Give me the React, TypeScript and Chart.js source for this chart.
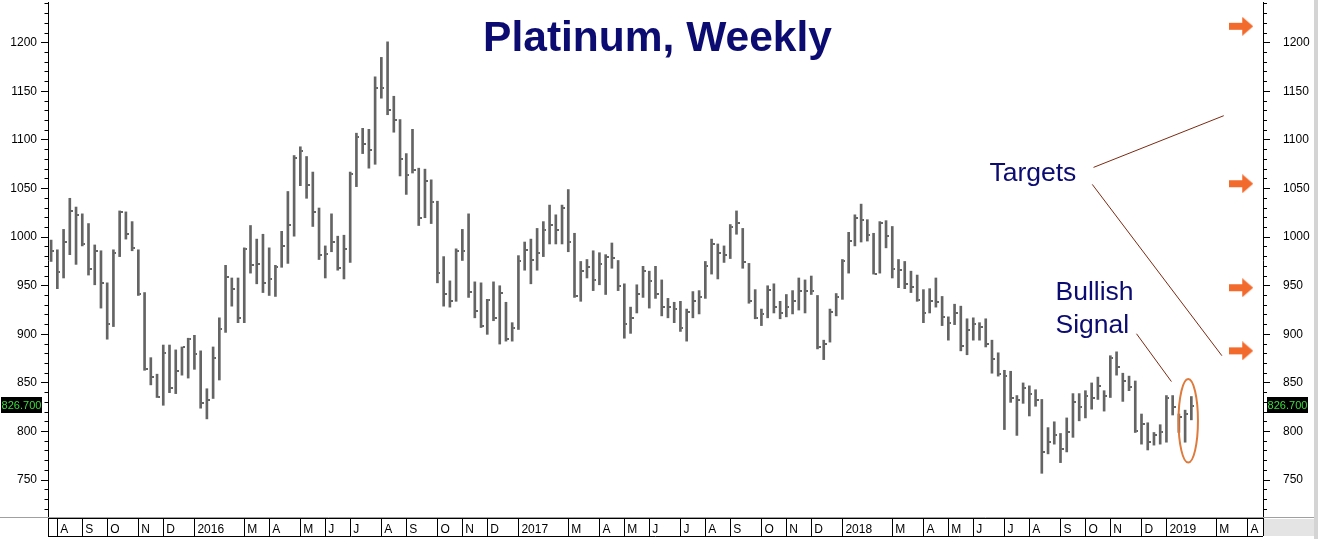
import React, { useEffect, useRef } from 'react';
import { Chart, registerables } from 'chart.js';

Chart.register(...registerables);

// ---------- data ----------
const TITLE = 'Platinum, Weekly';
const WEEK_COUNT = 195; // weekly slots on the axis (data + empty future weeks)
const FIRST_WEEK_UTC = Date.UTC(2015, 6, 27);

const highs = [
  997, 987, 1008, 1040, 1031, 1024, 1014, 992, 986, 953,
  987, 1027, 1026, 1016, 987, 943, 876, 859, 889, 889,
  884, 887, 896, 899, 883, 844, 887, 917, 971, 958,
  958, 989, 1012, 998, 1003, 989, 971, 1006, 1047, 1084,
  1093, 1083, 1067, 1030, 991, 1024, 1001, 1002, 1067, 1107,
  1112, 1111, 1165, 1185, 1201, 1145, 1121, 1086, 1111, 1071,
  1070, 1059, 1037, 980, 955, 988, 1008, 1024, 954, 953,
  936, 954, 950, 933, 912, 981, 995, 998, 1009, 1016,
  1033, 1023, 1033, 1049, 1004, 975, 977, 986, 984, 982,
  994, 976, 952, 928, 951, 970, 965, 970, 956, 937,
  933, 934, 926, 944, 945, 975, 998, 993, 991, 1013,
  1027, 1009, 973, 946, 926, 950, 952, 934, 941, 945,
  958, 956, 960, 940, 894, 926, 942, 977, 1005, 1023,
  1034, 1018, 1004, 1016, 1017, 1011, 977, 975, 965, 961,
  946, 947, 958, 939, 918, 931, 929, 916, 917, 912,
  916, 894, 881, 863, 862, 837, 850, 847, 843, 833,
  804, 810, 798, 814, 839, 839, 842, 850, 856, 842,
  878, 882, 860, 857, 852, 818, 809, 799, 807, 837,
  837, 818, 822, 836,
];

const lows = [
  975, 947, 958, 982, 972, 991, 961, 951, 927, 895,
  908, 980, 998, 986, 940, 863, 848, 835, 827, 840,
  839, 858, 855, 864, 824, 813, 834, 853, 902, 929,
  912, 912, 963, 952, 943, 940, 939, 969, 973, 1001,
  1053, 1040, 1011, 977, 958, 985, 966, 957, 974, 1052,
  1086, 1071, 1075, 1143, 1126, 1108, 1063, 1044, 1066, 1012,
  1020, 1014, 953, 929, 928, 934, 976, 938, 917, 907,
  900, 914, 890, 893, 893, 905, 966, 952, 966, 980,
  993, 993, 993, 985, 938, 934, 958, 945, 951, 941,
  968, 945, 896, 901, 922, 938, 927, 937, 919, 917,
  912, 903, 893, 917, 921, 937, 962, 957, 974, 978,
  1003, 968, 932, 916, 909, 917, 922, 916, 918, 921,
  925, 922, 941, 885, 874, 892, 919, 936, 963, 991,
  995, 996, 962, 963, 989, 958, 948, 947, 943, 934,
  912, 922, 928, 909, 894, 910, 883, 879, 894, 894,
  887, 860, 857, 802, 830, 796, 829, 816, 826, 757,
  777, 787, 768, 779, 794, 811, 814, 823, 833, 821,
  835, 858, 831, 842, 799, 787, 781, 786, 787, 789,
  817, 799, 789, 812,
];

const closes = [
  986, 964, 995, 1027, 1023, 993, 967, 986, 953, 911,
  984, 1026, 1003, 989, 941, 864, 856, 836, 881, 845,
  862, 887, 895, 880, 829, 832, 876, 906, 959, 947,
  917, 988, 971, 972, 953, 957, 969, 991, 1013, 1081,
  1089, 1054, 1026, 982, 983, 995, 968, 988, 1065, 1103,
  1096, 1090, 1153, 1154, 1131, 1121, 1080, 1064, 1069, 1020,
  1058, 1036, 963, 941, 934, 986, 986, 944, 924, 909,
  935, 917, 943, 895, 907, 975, 987, 976, 984, 1007,
  1013, 1007, 1030, 995, 939, 965, 969, 956, 972, 980,
  979, 950, 911, 917, 941, 965, 955, 941, 928, 928,
  926, 907, 923, 934, 938, 970, 993, 984, 982, 1010,
  1015, 974, 934, 917, 921, 946, 928, 922, 928, 934,
  945, 945, 945, 887, 890, 923, 938, 975, 996, 1020,
  1018, 1002, 962, 1015, 1001, 967, 966, 952, 949, 935,
  922, 934, 933, 918, 912, 922, 888, 904, 911, 908,
  890, 875, 859, 857, 835, 832, 845, 839, 832, 779,
  789, 796, 782, 799, 830, 825, 837, 835, 847, 837,
  876, 866, 852, 846, 801, 808, 789, 796, 799, 835,
  825, 815, 818, 826.7,
];

// month separators on the time axis: week slot index and its text
const monthTickIndex = [
  1, 5, 9, 14, 18, 23, 31, 35, 40, 44, 48, 53, 57, 62, 66, 70, 75, 83, 88, 92,
  96, 101, 105, 109, 114, 118, 122, 127, 135, 140, 144, 148, 153, 157, 162, 166,
  170, 175, 179, 187, 192,
];
const monthTickText = [
  'A', 'S', 'O', 'N', 'D', '2016', 'M', 'A', 'M', 'J', 'J', 'A', 'S', 'O', 'N', 'D',
  '2017', 'M', 'A', 'M', 'J', 'J', 'A', 'S', 'O', 'N', 'D', '2018', 'M', 'A', 'M',
  'J', 'J', 'A', 'S', 'O', 'N', 'D', '2019', 'M', 'A',
];

// price axis
const Y_MIN = 711;
const Y_MAX = 1242;
const Y_MINOR_STEP = 10;
const Y_LABEL_STEP = 50;

// price targets (orange arrows), placed in week slot 191
const targetValues = [1217, 1055, 948, 883];
const TARGET_SLOT = 191;

// annotations (week slot, price)
const targetsText = { text: 'Targets', slot: 150.6, price: 1057.4 };
const bullishText = [
  { text: 'Bullish', slot: 161.2, price: 935.4 },
  { text: 'Signal', slot: 161.2, price: 901.2 },
];
const leaderLines = [
  [167.3, 1071.8, 188.2, 1125],
  [167.1, 1054.3, 187.9, 878],
  [174.2, 900.6, 179.8, 851.4],
];
const signalEllipse = { slot: 182.5, price: 811, rSlots: 1.56, rPrice: 43 };

// ---------- styling ----------
const FONT = '"Liberation Sans", Arial, Helvetica, sans-serif';
const BAR_COLOR = '#646464';
const NAVY = '#0b0b72';
const ORANGE = '#f26a2c';
const LEADER = '#7b2a12';

const weekLabels = Array.from({ length: WEEK_COUNT }, (_, i) =>
  new Date(FIRST_WEEK_UTC + i * 7 * 86400000).toISOString().slice(0, 10)
);
const monthMap = new Map<number, string>();
monthTickIndex.forEach((idx, k) => monthMap.set(idx, monthTickText[k]));

function makeCloseTick(): HTMLCanvasElement {
  const c = document.createElement('canvas');
  c.width = 6;
  c.height = 2;
  const g = c.getContext('2d')!;
  g.fillStyle = BAR_COLOR;
  g.fillRect(4, 0, 2, 2);
  return c;
}

function makeArrow(): HTMLCanvasElement {
  const c = document.createElement('canvas');
  c.width = 24;
  c.height = 19;
  const g = c.getContext('2d')!;
  g.fillStyle = ORANGE;
  g.fillRect(0, 6, 14, 7);
  g.beginPath();
  g.moveTo(13, 0);
  g.lineTo(24, 9.5);
  g.lineTo(13, 19);
  g.closePath();
  g.fill();
  return c;
}

const annotationPlugin = {
  id: 'annotations',
  afterDraw(chart: any) {
    const { ctx, chartArea, scales } = chart;
    const xs = scales.x;
    const ys = scales.y;
    const ys2 = scales.y2;
    const px = (s: number) => xs.getPixelForValue(s);
    const py = (v: number) => ys.getPixelForValue(v);
    ctx.save();

    // frame pieces around the time strip
    const stripTop = xs.top;
    const stripBottom = xs.top + 18;
    ctx.fillStyle = '#e4e4e4';
    ctx.fillRect(chartArea.right + 0.5, stripTop + 1, chart.width - 4 - chartArea.right, stripBottom - stripTop - 1);
    ctx.fillStyle = '#d4d4d4';
    ctx.fillRect(chart.width - 4, 0, 4, chart.height);
    ctx.strokeStyle = '#a0a0a0';
    ctx.lineWidth = 1;
    ctx.beginPath();
    ctx.moveTo(0, chartArea.bottom - 0.5);
    ctx.lineTo(chart.width - 4, chartArea.bottom - 0.5);
    ctx.stroke();
    ctx.strokeStyle = '#000';
    ctx.beginPath();
    ctx.moveTo(chartArea.left, stripBottom + 0.5);
    ctx.lineTo(chartArea.right, stripBottom + 0.5);
    ctx.moveTo(chartArea.left + 0.5, stripTop);
    ctx.lineTo(chartArea.left + 0.5, stripBottom);
    ctx.moveTo(chartArea.right + 0.5, stripTop);
    ctx.lineTo(chartArea.right + 0.5, stripBottom);
    ctx.stroke();

    // title
    ctx.fillStyle = NAVY;
    ctx.font = `bold 42.5px ${FONT}`;
    ctx.textAlign = 'center';
    ctx.textBaseline = 'alphabetic';
    ctx.fillText(TITLE, (chartArea.left + chartArea.right) / 2 + 2, chartArea.top + 49);

    // leader lines
    ctx.strokeStyle = LEADER;
    ctx.lineWidth = 1;
    leaderLines.forEach(([s1, v1, s2, v2]) => {
      ctx.beginPath();
      ctx.moveTo(px(s1), py(v1));
      ctx.lineTo(px(s2), py(v2));
      ctx.stroke();
    });

    // text annotations
    ctx.fillStyle = NAVY;
    ctx.font = `26.5px ${FONT}`;
    ctx.textAlign = 'left';
    ctx.fillText(targetsText.text, px(targetsText.slot), py(targetsText.price));
    bullishText.forEach((t) => ctx.fillText(t.text, px(t.slot), py(t.price)));

    // ellipse around the signal bars
    const cx = px(signalEllipse.slot);
    const cy = py(signalEllipse.price);
    const rx = px(signalEllipse.slot + signalEllipse.rSlots) - cx;
    const ry = py(signalEllipse.price - signalEllipse.rPrice) - cy;
    ctx.strokeStyle = '#de7a3c';
    ctx.lineWidth = 2;
    ctx.beginPath();
    ctx.ellipse(cx, cy, rx, ry, 0, 0, Math.PI * 2);
    ctx.stroke();

    // last price boxes on both axes
    const last = closes[closes.length - 1];
    const ly = Math.round(py(last));
    const label = last.toFixed(3);
    ctx.font = `11px ${FONT}`;
    ctx.textAlign = 'center';
    ctx.textBaseline = 'middle';
    const boxes = [ys.right - 47, ys2.left + 4];
    boxes.forEach((bx) => {
      ctx.fillStyle = '#000';
      ctx.fillRect(bx, ly - 9, 41, 16);
      ctx.fillStyle = '#3bdc3b';
      ctx.fillText(label, bx + 20.5, ly - 0.5);
    });

    ctx.restore();
  },
};

function yAxis(position: 'left' | 'right', width: number, padding: number, dash: number[]) {
  return {
    type: 'linear' as const,
    position,
    min: Y_MIN,
    max: Y_MAX,
    border: { display: true, color: '#000', width: 1 },
    grid: {
      display: true,
      drawOnChartArea: false,
      drawTicks: true,
      tickLength: 7,
      tickColor: '#000',
      tickWidth: 1,
      tickBorderDash: (c: any) =>
        c.tick && Math.round(c.tick.value) % Y_LABEL_STEP === 0 ? [] : dash,
    },
    ticks: {
      stepSize: Y_MINOR_STEP,
      includeBounds: false,
      autoSkip: false,
      padding,
      color: '#000',
      font: { family: FONT, size: 12 },
      callback: (v: any) => (Math.round(v) % Y_LABEL_STEP === 0 ? String(Math.round(v)) : ''),
    },
    afterFit: (s: any) => {
      s.width = width;
      s.paddingTop = 0;
      s.paddingBottom = 0;
    },
  };
}

export default function App() {
  const ref = useRef<HTMLCanvasElement>(null);

  useEffect(() => {
    if (!ref.current) return;
    const tickImg = makeCloseTick();
    const arrowImg = makeArrow();

    const chart = new Chart(ref.current, {
      type: 'bar',
      data: {
        labels: weekLabels,
        datasets: [
          {
            type: 'bar',
            label: 'High-Low',
            data: lows.map((l, i) => [l, highs[i]]) as any,
            backgroundColor: BAR_COLOR,
            borderWidth: 0,
            barThickness: 2,
            yAxisID: 'y',
            order: 2,
          },
          {
            type: 'line',
            label: 'Close',
            data: closes,
            showLine: false,
            pointStyle: tickImg as any,
            pointRadius: 1,
            pointHoverRadius: 1,
            yAxisID: 'y',
            order: 1,
          },
          {
            type: 'line',
            label: 'Targets',
            data: targetValues.map((v) => ({ x: weekLabels[TARGET_SLOT], y: v })) as any,
            showLine: false,
            pointStyle: arrowImg as any,
            pointRadius: 1,
            pointHoverRadius: 1,
            yAxisID: 'y',
            order: 0,
          },
        ],
      },
      options: {
        animation: false,
        responsive: true,
        maintainAspectRatio: false,
        events: [],
        layout: { padding: 0 },
        plugins: {
          legend: { display: false },
          tooltip: { enabled: false },
        },
        scales: {
          x: {
            type: 'category',
            offset: true,
            border: { display: true, color: '#000', width: 1 },
            grid: {
              display: true,
              offset: false,
              drawOnChartArea: false,
              drawTicks: true,
              tickLength: 18,
              tickWidth: 1,
              tickColor: (c: any) => (monthMap.has(c.index) ? '#000' : 'rgba(0,0,0,0)'),
            },
            ticks: {
              autoSkip: false,
              maxRotation: 0,
              minRotation: 0,
              align: 'start',
              labelOffset: 3,
              padding: -14,
              color: '#000',
              font: { family: FONT, size: 12 },
              callback: (_v: any, i: number) => monthMap.get(i) ?? '',
            },
            afterFit: (s: any) => {
              s.height = 21;
              s.paddingLeft = 0;
              s.paddingRight = 0;
            },
          } as any,
          y: yAxis('left', 48, 4, [0, 3.5, 4, 100]) as any,
          y2: yAxis('right', 55, 13, [3, 100]) as any,
        },
      },
      plugins: [annotationPlugin],
    });

    return () => chart.destroy();
  }, []);

  return (
    <div style={{ position: 'fixed', left: 0, top: 0, width: 1318, height: 539, background: '#fff' }}>
      <canvas ref={ref} />
    </div>
  );
}
